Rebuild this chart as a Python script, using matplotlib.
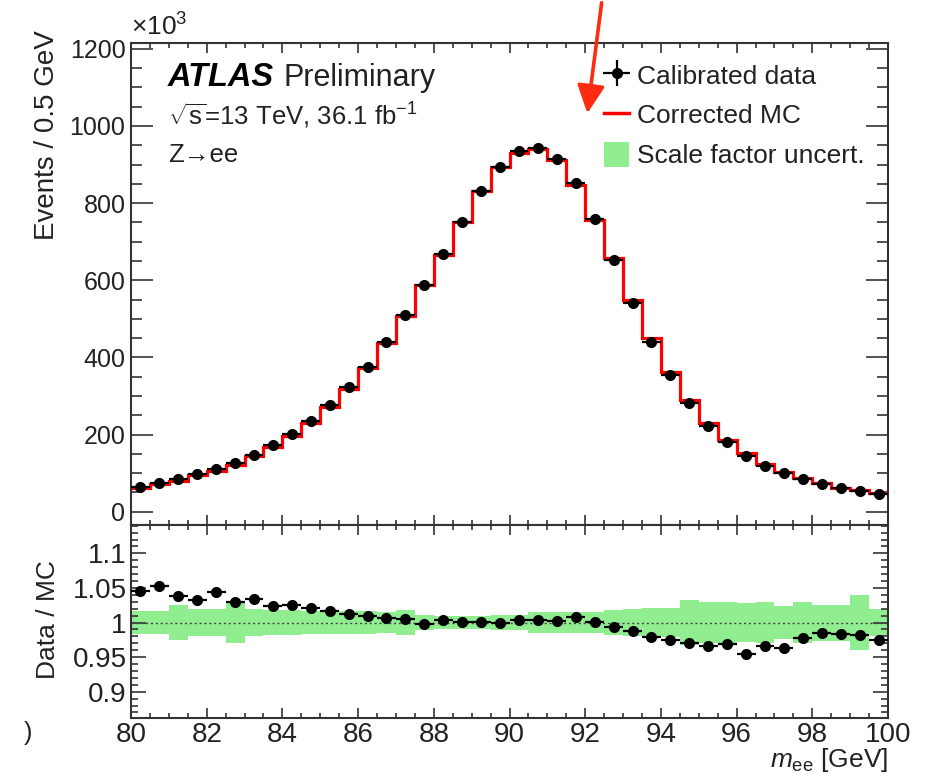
import numpy as np
import matplotlib
matplotlib.use("Agg")
import matplotlib.pyplot as plt
from matplotlib.ticker import MultipleLocator
from matplotlib.patches import FancyArrowPatch

plt.rcParams['font.family'] = ['Liberation Sans', 'DejaVu Sans']
plt.rcParams['mathtext.fontset'] = 'custom'
plt.rcParams['mathtext.rm'] = 'Liberation Sans'
plt.rcParams['mathtext.it'] = 'Liberation Sans:italic'

# m_ee binning: 40 bins of 0.5 GeV
edges = np.arange(80.0, 100.01, 0.5)
centers = 0.5 * (edges[:-1] + edges[1:])

# events per bin (x10^3)
data = [63.6, 75.6, 84.0, 97.5, 110.5, 126, 148, 172, 202, 235,
        276, 323, 376, 439, 510, 587, 669, 750, 832, 893,
        934, 943, 913, 852, 758, 652, 542, 441, 354, 281,
        223, 180, 145, 119, 100, 84.5, 72, 61, 54, 46]
mc = [60.8, 71.8, 80.8, 94.4, 105.9, 122.3, 143.2, 168.0, 197.1, 230.3,
      271.4, 319.2, 372.6, 436.4, 507.7, 588.2, 666.6, 749.8, 831.2, 893.9,
      930.6, 939.6, 910.6, 845.7, 757.2, 656.6, 548.6, 450.2, 363.2, 289.4,
      230.8, 185.8, 151.9, 123.2, 103.8, 86.5, 73.1, 62.1, 55.0, 47.2]
ratio = [1.046, 1.053, 1.039, 1.0325, 1.0436, 1.030, 1.0335, 1.024, 1.025, 1.0205,
         1.017, 1.012, 1.009, 1.006, 1.0046, 0.998, 1.0036, 1.0003, 1.001, 0.999,
         1.0036, 1.0036, 1.0026, 1.0075, 1.001, 0.993, 0.988, 0.9795, 0.9747, 0.971,
         0.966, 0.969, 0.9545, 0.966, 0.9636, 0.977, 0.985, 0.983, 0.982, 0.9747]
# scale factor uncertainty (half width of the band)
sf_unc = [0.017, 0.017, 0.025, 0.019, 0.019, 0.029, 0.019, 0.018, 0.018, 0.017,
          0.017, 0.016, 0.016, 0.015, 0.018, 0.011, 0.010, 0.010, 0.010, 0.011,
          0.011, 0.015, 0.015, 0.015, 0.015, 0.018, 0.019, 0.021, 0.021, 0.032,
          0.030, 0.030, 0.028, 0.030, 0.024, 0.030, 0.026, 0.026, 0.040, 0.020]

data = np.array(data)
mc = np.array(mc)
ratio = np.array(ratio)
sf_unc = np.array(sf_unc)

W, H = 939, 778
fig = plt.figure(figsize=(W / 100, H / 100), dpi=100)
left, right = 131 / W, 888 / W
ax = fig.add_axes([left, 1 - 525 / H, right - left, (525 - 43) / H])
rax = fig.add_axes([left, 1 - 718 / H, right - left, (718 - 525) / H])

green = '#90ee90'
frame = '#333333'
ink = '#222222'

# main panel
ax.stairs(mc, edges, color='red', lw=2.3, baseline=None, zorder=2)
ax.errorbar(centers, data, xerr=0.25, fmt='o', color='black', ms=7,
            elinewidth=1.6, capsize=0, zorder=3)
ax.set_xlim(80, 100)
ax.set_ylim(-34.5, 1215)
ax.yaxis.set_major_locator(MultipleLocator(200))
ax.yaxis.set_minor_locator(MultipleLocator(50))
ax.xaxis.set_major_locator(MultipleLocator(2))
ax.xaxis.set_minor_locator(MultipleLocator(0.5))
ax.tick_params(axis='x', which='both', labelbottom=False)
ax.tick_params(which='both', direction='in', top=True, right=True,
               color=frame, width=1.2)
ax.tick_params(axis='y', which='major', length=16, labelsize=18, pad=4)
ax.tick_params(axis='y', which='minor', length=8)
ax.tick_params(axis='x', which='major', length=7.5)
ax.tick_params(axis='x', which='minor', length=3.8)

# ratio panel
rax.bar(centers, 2 * sf_unc, bottom=1 - sf_unc, width=0.5, color=green,
        linewidth=0, zorder=1)
rax.axhline(1.0, color='#444444', lw=1.0, ls=(0, (1.5, 2)), zorder=2)
rax.errorbar(centers, ratio, xerr=0.25, fmt='o', color='black', ms=7,
             elinewidth=1.6, capsize=0, zorder=3)
rax.set_xlim(80, 100)
rax.set_ylim(0.862, 1.141)
rax.yaxis.set_minor_locator(MultipleLocator(0.01))
rax.xaxis.set_major_locator(MultipleLocator(2))
rax.xaxis.set_minor_locator(MultipleLocator(0.5))
rax.set_yticks([0.9, 0.95, 1.0, 1.05, 1.1])
rax.set_yticklabels(['0.9', '0.95', '1', '1.05', '1.1'])
rax.tick_params(which='both', direction='in', top=True, right=True,
                color=frame, width=1.2)
rax.tick_params(axis='y', which='major', length=11, labelsize=20, pad=3)
rax.tick_params(axis='y', which='minor', length=5)
rax.tick_params(axis='x', which='major', length=7.5, labelsize=20, pad=3)
rax.tick_params(axis='x', which='minor', length=3.8)

for a in (ax, rax):
    for s in a.spines.values():
        s.set_color(frame)
        s.set_linewidth(1.5)
    for lab in a.get_xticklabels() + a.get_yticklabels():
        lab.set_color(ink)

# axis titles
fig.text(47 / W, 1 - 30 / H, 'Events / 0.5 GeV', rotation=90, ha='center',
         va='top', fontsize=20, color=ink)
fig.text(48 / W, 1 - 620 / H, 'Data / MC', rotation=90, ha='center',
         va='center', fontsize=19, color=ink)
fig.text(888 / W, 1 - 760 / H, r'$m_{\mathrm{ee}}$ [GeV]', ha='right',
         va='center', fontsize=19, color=ink)
fig.text(131 / W, 1 - 27 / H, r'$\times$10$^{3}$', ha='left', va='center',
         fontsize=19, color=ink)
fig.text(28 / W, 1 - 733 / H, ')', ha='center', va='center', fontsize=18,
         color=ink)

# labels
fig.text(168 / W, 1 - 78 / H, 'ATLAS', fontsize=23.5, fontweight='bold',
         style='italic', ha='left', va='center')
fig.text(284 / W, 1 - 78 / H, 'Preliminary', fontsize=22, ha='left',
         va='center', color=ink)
fig.text(168 / W, 1 - 116 / H, r'$\sqrt{\mathrm{s}}$=13 TeV, 36.1 fb$^{-1}$',
         fontsize=18.5, ha='left', va='center', color=ink)
fig.text(168 / W, 1 - 155 / H, 'Z\u2192ee', fontsize=18.5, ha='left',
         va='center', color=ink)

# legend
h_data = ax.errorbar([], [], xerr=1, yerr=1, fmt='o', color='black', ms=7,
                     elinewidth=1.6, capsize=0)
h_mc, = ax.plot([], [], color='red', lw=2.5)
h_band = plt.Rectangle((0, 0), 1, 1, color=green, linewidth=0)
ax.legend([h_data, h_mc, h_band],
          ['Calibrated data', 'Corrected MC', 'Scale factor uncert.'],
          loc='upper left', bbox_to_anchor=(604 / W, 1 - 62 / H),
          bbox_transform=fig.transFigure, frameon=False, fontsize=19,
          handlelength=0.95, handleheight=1.1, handletextpad=0.3,
          labelspacing=0.5, borderpad=0, borderaxespad=0)
for t in ax.get_legend().get_texts():
    t.set_color(ink)

# arrow annotation
arrow = FancyArrowPatch((602 / W, 1.0), (587 / W, 1 - 116 / H),
                        transform=fig.transFigure,
                        arrowstyle='-|>,head_length=0.85,head_width=0.42',
                        mutation_scale=20, color='#ff2a10', lw=2.6)
fig.add_artist(arrow)

fig.savefig('out.png', dpi=100)
